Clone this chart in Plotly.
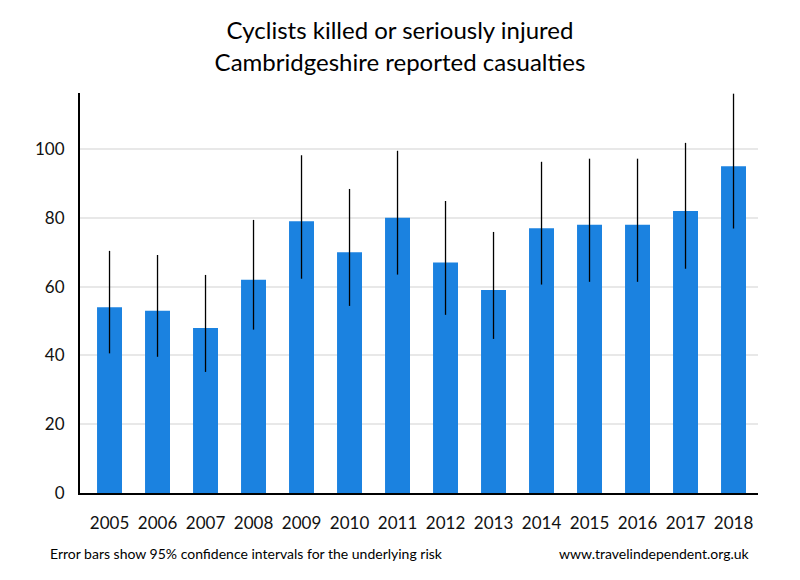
import plotly.graph_objects as go

years = ["2005", "2006", "2007", "2008", "2009", "2010", "2011",
         "2012", "2013", "2014", "2015", "2016", "2017", "2018"]
casualties = [54, 53, 48, 62, 79, 70, 80, 67, 59, 77, 78, 78, 82, 95]
ci_upper = [70.4, 69.2, 63.4, 79.4, 98.2, 88.4, 99.5, 84.9, 75.9, 96.3, 97.2, 97.2, 101.8, 116.1]
ci_lower = [40.6, 39.6, 35.2, 47.5, 62.3, 54.4, 63.5, 51.8, 44.8, 60.6, 61.4, 61.4, 65.2, 76.9]
y_ticks = [0, 20, 40, 60, 80, 100]

err_plus = [u - v for u, v in zip(ci_upper, casualties)]
err_minus = [v - l for v, l in zip(casualties, ci_lower)]

FONT = "Lato"

fig = go.Figure()
fig.add_trace(go.Bar(
    x=years, y=casualties,
    marker=dict(color="#1b82e0", line=dict(width=0)),
    width=0.52,
    error_y=dict(type="data", symmetric=False, array=err_plus, arrayminus=err_minus,
                 color="black", thickness=1.3, width=0),
))

fig.update_layout(
    width=800, height=580,
    margin=dict(l=80, r=42, t=93, b=87),
    paper_bgcolor="white", plot_bgcolor="white",
    showlegend=False,
    font=dict(family=FONT, color="#111111"),
    title=dict(text="Cyclists killed or seriously injured<br>Cambridgeshire reported casualties",
               x=0.5, xanchor="center", y=0.932, yanchor="middle",
               font=dict(family=FONT, size=24, color="black")),
    xaxis=dict(type="category", range=[-0.615, 13.51], showline=True, linecolor="black",
               linewidth=2, showgrid=False, ticks="", ticklabelstandoff=14,
               tickfont=dict(family=FONT, size=17, color="#111111")),
    yaxis=dict(range=[0, 116.3], tickvals=y_ticks, showline=True, linecolor="black",
               linewidth=2, showgrid=True, gridcolor="#e8e8e8", gridwidth=2,
               zeroline=False, ticks="", ticklabelstandoff=10,
               tickfont=dict(family=FONT, size=17, color="#111111")),
    annotations=[
        dict(text="Error bars show 95% confidence intervals for the underlying risk",
             xref="paper", yref="paper", x=-0.0472, y=-0.151, xanchor="left", yanchor="middle",
             showarrow=False, font=dict(family=FONT, size=14, color="black")),
        dict(text="www.travelindependent.org.uk",
             xref="paper", yref="paper", x=0.991, y=-0.151, xanchor="right", yanchor="middle",
             showarrow=False, font=dict(family=FONT, size=14, color="black")),
    ],
)

fig.write_html("out.html")
